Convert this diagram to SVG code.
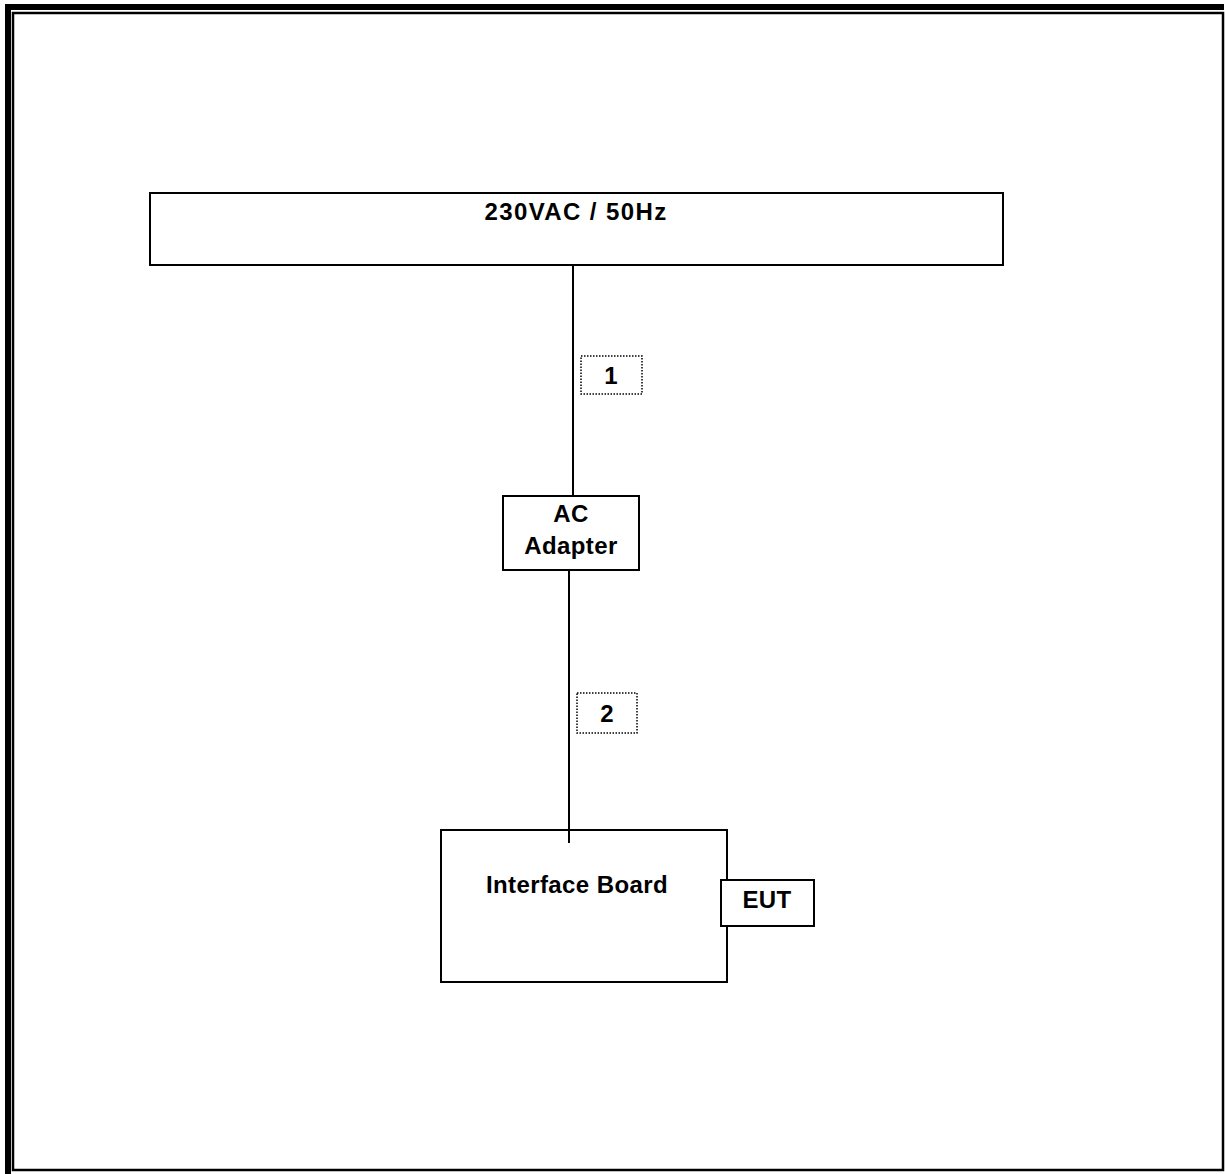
<svg xmlns="http://www.w3.org/2000/svg" width="1225" height="1174" viewBox="0 0 1225 1174">
<style>
.box{fill:#fff;stroke:#000;stroke-width:2}
.lbl{fill:#fff;stroke:#000;stroke-width:1.5;stroke-dasharray:1.5 1.5}
.t{font-family:"Liberation Sans",Arial,sans-serif;font-weight:bold;font-size:24px;fill:#000;text-anchor:middle;letter-spacing:0.4px}
.ln{stroke:#000;stroke-width:2;fill:none}
</style>
<rect width="1225" height="1174" fill="#fff"/>
<g id="frame">
<rect x="5" y="4" width="6" height="1170" fill="#000"/>
<rect x="5" y="4" width="1219" height="6" fill="#000"/>
<rect x="13" y="13" width="1210" height="1157" fill="none" stroke="#000" stroke-width="2.5"/>
</g>
<g id="mains">
<rect class="box" x="150" y="193" width="853" height="72"/>
<text class="t" x="576" y="220" style="letter-spacing:1.4px">230VAC / 50Hz</text>
</g>
<g id="label1">
<rect class="lbl" x="581" y="356" width="61" height="38"/>
<text class="t" x="611" y="384">1</text>
</g>
<g id="adapter">
<rect class="box" x="503" y="496" width="136" height="74"/>
<text class="t" x="571" y="522">AC</text>
<text class="t" x="571" y="554">Adapter</text>
</g>
<g id="label2">
<rect class="lbl" x="577" y="693" width="60" height="40"/>
<text class="t" x="607" y="722">2</text>
</g>
<g id="board">
<rect class="box" x="441" y="830" width="286" height="152"/>
<text class="t" x="577" y="893">Interface Board</text>
</g>
<g id="eut">
<rect class="box" x="721" y="880" width="93" height="46"/>
<text class="t" x="767" y="908">EUT</text>
</g>
<g id="connectors">
<line class="ln" x1="573" y1="265" x2="573" y2="496"/>
<line class="ln" x1="569" y1="570" x2="569" y2="843"/>
</g>
</svg>
